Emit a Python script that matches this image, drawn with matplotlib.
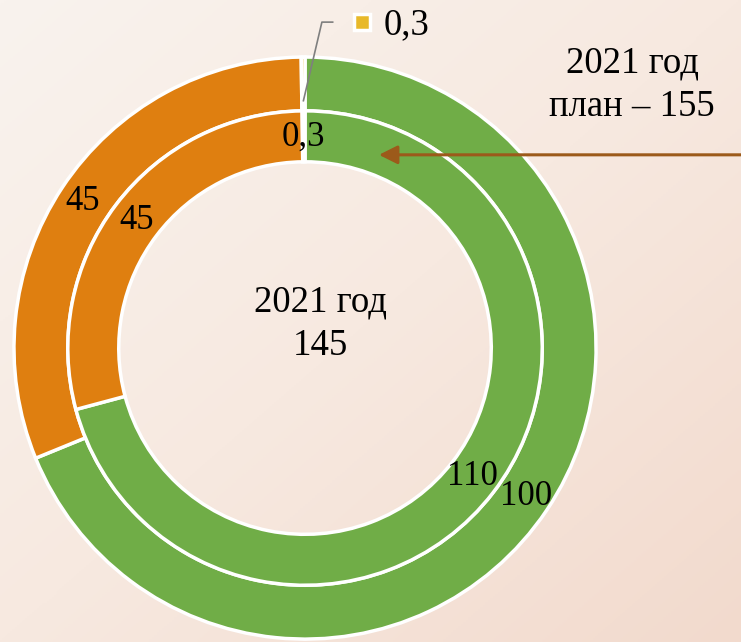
import numpy as np
import matplotlib.pyplot as plt
from matplotlib.colors import LinearSegmentedColormap

plt.rcParams['font.family'] = ['Liberation Serif', 'DejaVu Serif']

# data: inner ring = plan 2021, outer ring = fact 2021
categories = ["Категория 1", "Категория 2", "Категория 3"]
plan_values = [110, 45, 0.3]
fact_values = [100, 45, 0.3]
plan_labels = ["110", "45", "0,3"]
fact_labels = ["100", "45", "0,3"]
colors = ["#70ad47", "#df7f10", "#e8b92a"]

center_text = "2021 год\n145"
plan_text = "2021 год\nплан – 155"

fig = plt.figure(figsize=(7.41, 6.42), dpi=100)
ax = fig.add_axes([0, 0, 1, 1])

xlim = (-1.048, 1.498)
ylim = (-1.010, 1.196)

# soft peach background gradient, light top-left -> darker bottom-right
gx, gy = np.meshgrid(np.linspace(0, 1, 300), np.linspace(0, 1, 300))
grad = (gx + gy) / 2
bg_cmap = LinearSegmentedColormap.from_list("bg", ["#f9f3ee", "#f7e9e0", "#f2dacd"])
ax.imshow(grad, extent=[xlim[0], xlim[1], ylim[0], ylim[1]], cmap=bg_cmap,
          aspect='auto', zorder=0)

edge = dict(edgecolor='white', linewidth=2.5)

outer, _ = ax.pie(fact_values, radius=1.0, colors=colors, startangle=90,
                  counterclock=False,
                  wedgeprops=dict(width=0.185, **edge))
inner, _ = ax.pie(plan_values, radius=0.815, colors=colors, startangle=90,
                  counterclock=False,
                  wedgeprops=dict(width=0.175, **edge))

for w in outer + inner:
    w.set_zorder(2)


def mid(w):
    return np.deg2rad((w.theta1 + w.theta2) / 2)


# value labels
for w, lab in zip(outer[:2], fact_labels[:2]):
    a = mid(w)
    ax.text(0.915 * np.cos(a), 0.915 * np.sin(a), lab, fontsize=25,
            ha='center', va='center', zorder=3)

for w, lab in zip(inner, plan_labels):
    a = mid(w)
    ax.text(0.725 * np.cos(a), 0.725 * np.sin(a), lab, fontsize=25,
            ha='center', va='center', zorder=3)

# outer small slice label with leader line
a = mid(outer[2])
x0, y0 = 0.85 * np.cos(a), 0.85 * np.sin(a)
ax.plot([x0, 0.058, 0.095], [y0, 1.12, 1.12], color='#7f7f7f', lw=1.2, zorder=3)
ax.plot(0.196, 1.12, marker='s', markersize=11, color=colors[2],
        markeredgecolor='white', markeredgewidth=2.5, zorder=3)
ax.text(0.27, 1.11, fact_labels[2], fontsize=26.5, ha='left', va='center', zorder=3)

# center text
ax.text(0.052, 0.083, center_text, fontsize=26.5, ha='center', va='center',
        linespacing=1.35, zorder=3)

# plan text and arrow pointing at the inner ring
ax.text(1.124, 0.905, plan_text, fontsize=26.5, ha='center', va='center',
        linespacing=1.35, zorder=3)
ax.annotate("", xy=(0.254, 0.664), xytext=(1.5, 0.664),
            arrowprops=dict(arrowstyle='-|>', color='#9c5a1a', lw=2.2,
                            mutation_scale=28, shrinkA=0, shrinkB=0),
            zorder=4)

ax.set_xlim(xlim)
ax.set_ylim(ylim)
ax.set_aspect('auto')
ax.axis('off')

fig.savefig("out.png", dpi=100)
